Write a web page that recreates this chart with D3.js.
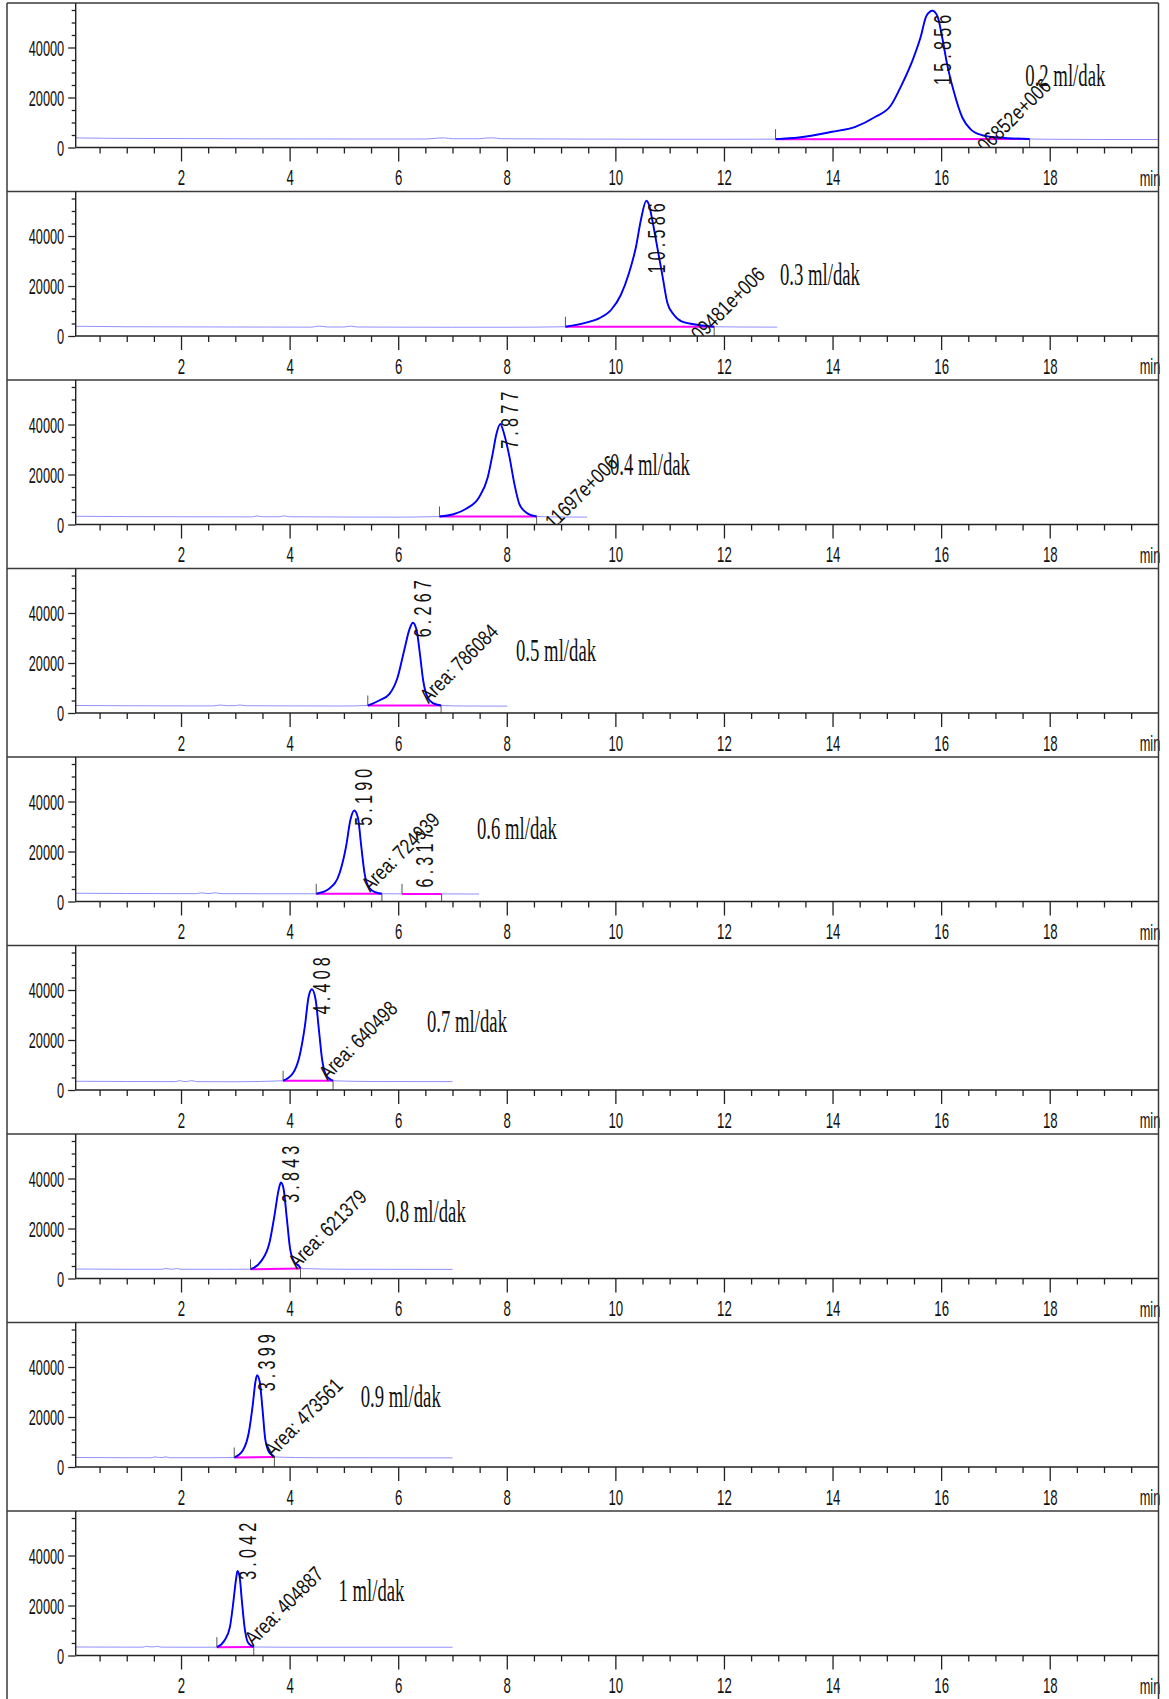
<!DOCTYPE html>
<html><head><meta charset="utf-8">
<script src="https://cdn.jsdelivr.net/npm/d3@7"></script>
<style>body{margin:0;background:#fff}svg{display:block}</style>
</head><body>
<svg id="c" width="1169" height="1699"></svg>
<script>
// ---------------- data ----------------
const flowLabels = ["0.2 ml/dak","0.3 ml/dak","0.4 ml/dak","0.5 ml/dak","0.6 ml/dak","0.7 ml/dak","0.8 ml/dak","0.9 ml/dak","1 ml/dak"];
const retentionTimes = [15.856, 10.586, 7.877, 6.267, 5.190, 4.408, 3.843, 3.399, 3.042];
const areaLabels = ["Area: 1.06852e+006","Area: 1.09481e+006","Area: 1.11697e+006","Area: 786084","Area: 724939","Area: 640498","Area: 621379","Area: 473561","Area: 404887"];
const integStart = [12.95, 9.08, 6.76, 5.44, 4.49, 3.88, 3.28, 2.98, 2.66];
const integEnd   = [17.63, 11.82, 8.55, 6.79, 5.70, 4.80, 4.20, 3.72, 3.34];
// minor peak in the 0.6 ml/dak run
const minorPeak = {panel: 4, rt: 6.317, start: 6.07, end: 6.80};
const xTickValues = [2,4,6,8,10,12,14,16,18];
const xMinorTicks = d3.range(0.5, 20, 0.5);
const yTickValues = [0, 20000, 40000];
const yMinorTicks = d3.range(0, 56000, 5000);

const signal02 = [[0.06,3900],[0.15,3800],[1,3650],[1.5,3600],[2.5,3550],[3.5,3450],[5,3400],[6.5,3400],[6.72,3750],[6.85,3850],[7.0,3500],[7.5,3500],[7.62,3800],[7.75,3850],[7.9,3500],[9,3400],[10,3350],[11,3300],[12,3300],[12.95,3350],
 [13.38,4000],[13.99,6280],[14.42,8280],[14.79,12280],[15.07,16680],[15.28,25360],[15.47,34680],[15.62,44000],[15.73,52680],[15.84,54700],[15.93,52680],[16.02,44000],[16.11,33360],[16.23,22680],[16.39,12000],[16.54,7360],[16.75,4960],[17.06,4000],[17.63,3400],[18,3300],[18.5,3250],[19,3200],[20,3200]];
const signal03 = [[0.06,3900],[1,3700],[2,3650],[3,3600],[4.4,3550],[4.55,3950],[4.7,3600],[5.0,3600],[5.12,3950],[5.25,3600],[6,3550],[7,3500],[8,3500],[9.08,3700],
 [9.46,5360],[9.70,7080],[9.92,10400],[10.10,16400],[10.25,25080],[10.38,35720],[10.47,46400],[10.57,54100],[10.62,52400],[10.68,46400],[10.77,35720],[10.87,23720],[10.96,13080],[11.08,8400],[11.23,5720],[11.54,4400],[11.82,3700],[12.3,3600],[12.98,3550]];
const signal04 = [[0.06,3300],[1,3150],[2,3100],[3.3,3050],[3.4,3400],[3.5,3100],[3.8,3100],[3.9,3450],[4.0,3100],[5,3000],[6,2950],[6.76,3200],
 [7.00,4000],[7.25,6270],[7.49,10930],[7.65,18930],[7.74,28270],[7.81,36270],[7.88,40200],[7.95,36270],[8.05,26930],[8.14,16270],[8.23,8270],[8.35,4930],[8.55,3200],[9,3000],[9.48,2950]];
const signal05 = [[0.06,3000],[1,2900],[2,2850],[2.6,2850],[2.72,3200],[2.85,2900],[3.0,2950],[3.08,3200],[3.2,2900],[4,2850],[5,2800],[5.44,3000],
 [5.65,5000],[5.84,7670],[5.99,14330],[6.11,25000],[6.21,33670],[6.27,36100],[6.34,33000],[6.40,23670],[6.46,13000],[6.54,6330],[6.64,3930],[6.79,3000],[7.2,2800],[8.01,2750]];
const signal06 = [[0.06,3300],[1,3200],[2,3150],[2.28,3150],[2.38,3500],[2.48,3200],[2.55,3250],[2.63,3500],[2.72,3150],[3.5,3100],[4.49,3100],
 [4.74,5330],[4.92,11330],[5.04,22000],[5.12,32670],[5.19,36400],[5.26,33330],[5.32,22000],[5.38,11330],[5.47,5330],[5.59,3600],[5.70,3100],[6.07,3050],[6.3,3150],[6.5,3100],[6.80,3050],[7.49,3000]];
const signal07 = [[0.06,3500],[1,3400],[1.9,3350],[1.97,3750],[2.05,3400],[2.12,3450],[2.2,3750],[2.28,3350],[3,3300],[3.88,3700],
 [4.06,6670],[4.18,13330],[4.28,25330],[4.35,37330],[4.41,40300],[4.48,36000],[4.54,24000],[4.60,12000],[4.67,6000],[4.77,4000],[4.80,3700],[5.5,3400],[7.0,3350]];
const signal08 = [[0.06,3800],[1,3700],[1.65,3700],[1.72,4000],[1.8,3750],[1.85,3750],[1.92,4000],[2.0,3700],[2.8,3700],[3.28,3720],
 [3.48,7050],[3.63,14400],[3.72,25050],[3.80,35720],[3.84,38400],[3.89,35720],[3.95,23720],[4.01,11720],[4.09,6400],[4.18,4800],[4.20,4000],[5,3700],[7.0,3650]];
const signal09 = [[0.06,3800],[1,3700],[1.45,3700],[1.52,4050],[1.6,3800],[1.65,3800],[1.72,4050],[1.8,3700],[2.5,3700],[2.98,3800],
 [3.14,6670],[3.25,14000],[3.32,24670],[3.37,34000],[3.40,36700],[3.45,34000],[3.50,23330],[3.55,11330],[3.62,6000],[3.70,4400],[3.72,4000],[4.5,3700],[7.0,3650]];
const signal10 = [[0.06,3400],[1,3350],[1.3,3350],[1.36,3700],[1.43,3450],[1.5,3450],[1.56,3700],[1.63,3350],[2.3,3300],[2.66,3330],
 [2.80,6000],[2.90,11330],[2.96,20670],[3.01,30000],[3.04,33800],[3.08,31330],[3.12,22000],[3.17,11330],[3.23,5330],[3.32,3600],[3.34,3400],[4,3300],[7.0,3300]];
const signals = [signal02, signal03, signal04, signal05, signal06, signal07, signal08, signal09, signal10];

// ---------------- layout (not data) ----------------
const flowLabelAt = [[17.55,83],[13.03,93.5],[9.90,95],[8.17,92],[7.45,82.3],[6.53,86.2],[5.77,87.7],[5.31,84.8],[4.90,89.5]];
const frameL = 7, frameR = 1158.5, plotL = 75.7, plotR = 1158.3;
const firstTop = 3, panelH = 188.5, axisOff = 144.5;
const sansFont = "'Liberation Sans', Arial, sans-serif";
const serifFont = "'Liberation Serif', 'Times New Roman', serif";

const svg = d3.select("#c");
const x = d3.scaleLinear().domain([0.06, 20]).range([plotL, plotR]);
const y = d3.scaleLinear().domain([0, 57800]).range([axisOff, 0]);

function valueAt(sig, t){
  for (let i=1;i<sig.length;i++){
    if (sig[i][0] >= t){
      const a=sig[i-1], b=sig[i];
      return a[1] + (b[1]-a[1])*(t-a[0])/(b[0]-a[0]);
    }
  }
  return sig[sig.length-1][1];
}

const line = d3.line().x(d=>x(d[0])).y(d=>y(d[1])).curve(d3.curveMonotoneX);

signals.forEach((sig, i) => {
  const top = firstTop + i*panelH;
  const g = svg.append("g").attr("transform", `translate(0,${top})`);
  const clipId = "clip"+i;
  g.append("clipPath").attr("id", clipId).append("rect")
    .attr("x", plotL).attr("y", 0).attr("width", plotR-plotL).attr("height", axisOff);
  const pg = g.append("g").attr("clip-path", `url(#${clipId})`);

  // panel separator line
  g.append("line").attr("x1", frameL).attr("x2", frameR).attr("y1", 0).attr("y2", 0)
    .attr("stroke", "#3a3a3a").attr("stroke-width", 1.5);

  // thin trace
  pg.append("path").datum(sig).attr("d", line).attr("fill","none")
    .attr("stroke", "#9090ff").attr("stroke-width", 1);

  // integration baselines
  const integ = [[integStart[i], integEnd[i]]];
  if (minorPeak.panel === i) integ.push([minorPeak.start, minorPeak.end]);
  integ.forEach(([s,e]) => {
    const vs = valueAt(sig, s), ve = valueAt(sig, e);
    pg.append("line").attr("x1", x(s)).attr("x2", x(e)).attr("y1", y(vs)).attr("y2", y(ve))
      .attr("stroke", "#ff00ff").attr("stroke-width", 2);
    g.append("line").attr("x1", x(s)).attr("x2", x(s)).attr("y1", y(vs)).attr("y2", y(vs)-10)
      .attr("stroke", "#555").attr("stroke-width", 1);
    g.append("line").attr("x1", x(e)).attr("x2", x(e)).attr("y1", y(ve)).attr("y2", axisOff)
      .attr("stroke", "#555").attr("stroke-width", 1);
  });

  // thick peak trace
  const pk = sig.filter(d => d[0] >= integStart[i]-1e-9 && d[0] <= integEnd[i]+1e-9);
  pg.append("path").datum(pk).attr("d", line).attr("fill","none")
    .attr("stroke", "#0000ff").attr("stroke-width", 1.9);

  // axes
  const xMinor = d3.axisBottom(x).tickValues(xMinorTicks.filter(v=>v%2!==0)).tickSize(6).tickFormat("");
  const xMajor = d3.axisBottom(x).tickValues(xTickValues).tickSize(14).tickFormat(d3.format("d"));
  const gxm = g.append("g").attr("transform", `translate(0,${axisOff})`).call(xMinor);
  const gx = g.append("g").attr("transform", `translate(0,${axisOff})`).call(xMajor);
  [gxm, gx].forEach(a => { a.select(".domain").remove(); a.selectAll("line").attr("stroke","#222").attr("stroke-width",1.3); });
  gx.selectAll("text").attr("y", 38).attr("dy", 0)
    .attr("font-family", sansFont).attr("font-size", 22).attr("fill", "#111")
    .attr("transform", "scale(0.6,1)");

  const yMinor = d3.axisLeft(y).tickValues(yMinorTicks.filter(v=>v%20000!==0)).tickSize(4).tickFormat("");
  const yMajor = d3.axisLeft(y).tickValues(yTickValues).tickSize(7.5).tickFormat(d3.format("d"));
  const gym = g.append("g").attr("transform", `translate(${plotL},0)`).call(yMinor);
  const gy = g.append("g").attr("transform", `translate(${plotL},0)`).call(yMajor);
  [gym, gy].forEach(a => { a.select(".domain").remove(); a.selectAll("line").attr("stroke","#222").attr("stroke-width",1.3); });
  gy.selectAll("text").attr("x", -11.5/0.58).attr("dy", "0.36em")
    .attr("font-family", sansFont).attr("font-size", 22).attr("fill", "#111")
    .attr("transform", "scale(0.58,1)");

  // axis lines
  g.append("line").attr("x1", plotL).attr("x2", plotL).attr("y1", 0).attr("y2", axisOff)
    .attr("stroke", "#222").attr("stroke-width", 1.4);
  g.append("line").attr("x1", plotL).attr("x2", plotR).attr("y1", axisOff).attr("y2", axisOff)
    .attr("stroke", "#222").attr("stroke-width", 1.4);

  // "min" unit label
  g.append("g").attr("transform", `translate(${plotR+2},${axisOff+38}) scale(0.58,1)`)
    .append("text").attr("text-anchor","end").attr("font-family", sansFont).attr("font-size", 22)
    .attr("fill","#111").text("min");

  // retention time label
  const rt = retentionTimes[i];
  g.append("g").attr("transform", `translate(${x(rt)+18},7.5) rotate(-90) scale(0.7,1)`)
    .append("text").attr("text-anchor","end").attr("font-family", sansFont).attr("font-size", 23)
    .attr("letter-spacing", 6).attr("fill","#111").text(rt.toFixed(3));

  if (minorPeak.panel === i){
    g.append("g").attr("transform", `translate(${x(minorPeak.rt)+18},${axisOff-14}) rotate(-90) scale(0.7,1)`)
      .append("text").attr("text-anchor","start").attr("font-family", sansFont).attr("font-size", 23)
      .attr("letter-spacing", 6).attr("fill","#111").text(minorPeak.rt.toFixed(3));
  }

  // area label
  const long = areaLabels[i].length > 14;
  const ax = x(rt) + (long ? 119 : 87), ay = axisOff + (long ? -60 : -80);
  pg.append("g").attr("transform", `translate(${ax},${ay}) rotate(-45) scale(0.8,1)`)
    .append("text").attr("text-anchor","end").attr("font-family", sansFont).attr("font-size", 21)
    .attr("fill","#111").text(areaLabels[i]);

  // flow label
  const fl = flowLabelAt[i];
  g.append("g").attr("transform", `translate(${x(fl[0])},${fl[1]}) scale(0.585,1)`)
    .append("text").attr("font-family", serifFont).attr("font-size", 32).attr("fill","#111")
    .text(flowLabels[i]);
});

// outer frame verticals
svg.append("line").attr("x1", frameL).attr("x2", frameL).attr("y1", firstTop).attr("y2", 1699)
  .attr("stroke", "#3a3a3a").attr("stroke-width", 1.5);
svg.append("line").attr("x1", frameR).attr("x2", frameR).attr("y1", firstTop).attr("y2", 1699)
  .attr("stroke", "#3a3a3a").attr("stroke-width", 1.5);
</script>
</body></html>
